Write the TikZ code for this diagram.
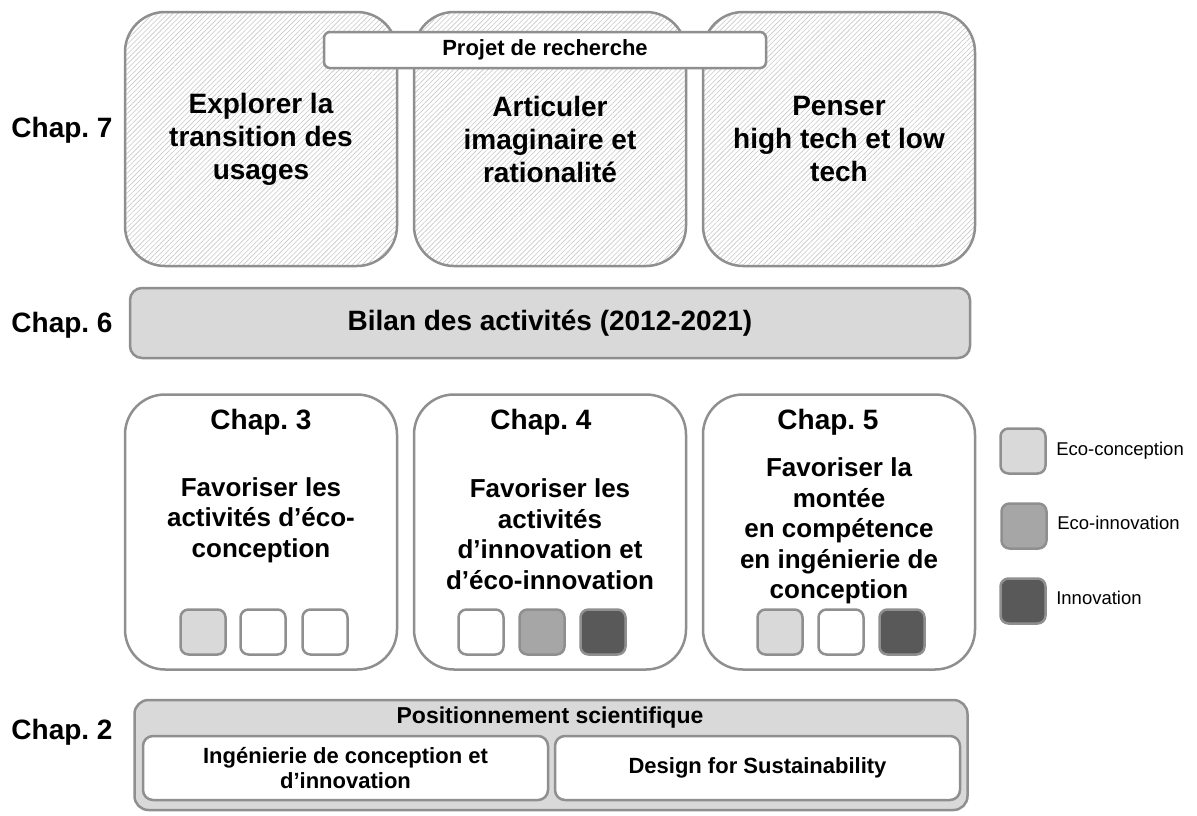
\documentclass[tikz,border=0pt]{standalone}
\usepackage{fontspec}
\setmainfont{Liberation Sans}
\usepackage{tikz}
\usetikzlibrary{positioning,patterns.meta}
\frenchspacing

\definecolor{edgegray}{HTML}{8F8F8F}
\definecolor{ecoconc}{HTML}{D9D9D9}
\definecolor{ecoinno}{HTML}{A6A6A6}
\definecolor{innov}{HTML}{595959}
\definecolor{hatchgray}{HTML}{C8C8C8}

\tikzset{
  bigbox/.style={draw=edgegray, line width=2.5pt, rounded corners=40pt,
    minimum width=272pt, align=center},
  hatchbox/.style={bigbox, minimum height=254pt,
    preaction={fill=white},
    pattern={Lines[angle=45,distance=3.5pt,line width=0.6pt]}, pattern color=hatchgray,
    font=\fontsize{28}{33}\selectfont\bfseries},
  chapbox/.style={bigbox, fill=white, minimum height=275pt},
  chaplabel/.style={font=\fontsize{28}{33}\selectfont\bfseries},
  bodytext/.style={align=center, font=\fontsize{26}{30.5}\selectfont\bfseries},
  smalltext/.style={align=center, font=\fontsize{22}{25}\selectfont\bfseries},
  sq/.style={draw=edgegray, line width=2.5pt, rounded corners=8pt,
    minimum width=45pt, minimum height=45pt, inner sep=0pt},
  sqwhite/.style={sq, fill=white},
  sqlight/.style={sq, fill=ecoconc},
  sqmid/.style={sq, fill=ecoinno},
  sqdark/.style={sq, fill=innov},
  legtext/.style={font=\fontsize{18.5}{22}\selectfont}
}

\begin{document}
\begin{tikzpicture}[x=1pt,y=-1pt]
\useasboundingbox (0,0) rectangle (1197,815);

% Chap. 7
\node[hatchbox] (explorer) at (261,139) {Explorer la\\transition des\\usages};
\node[hatchbox] (articuler) at (550,139) {Articuler\\imaginaire et\\rationalité};
\node[hatchbox] (penser) at (839,139) {Penser\\high tech et low\\tech};
\node[draw=edgegray, line width=2.5pt, fill=white, rounded corners=6pt,
  minimum width=442pt, minimum height=36pt, smalltext] (projet) at (545,50) {Projet de recherche};
\node[chaplabel] (chap7) at (62,130) {Chap. 7};

% Chap. 6
\node[draw=edgegray, line width=2.5pt, fill=ecoconc, rounded corners=12pt,
  minimum width=840pt, minimum height=70pt, chaplabel] (bilan) at (550,323) {Bilan des activités (2012-2021)};
\node[chaplabel] (chap6) at (62,325) {Chap. 6};

% Chap. 3 a 5
\node[chapbox] (box3) at (261,532) {};
\node[chapbox] (box4) at (550,532) {};
\node[chapbox] (box5) at (839,532) {};
\node[chaplabel] (titre3) at (261,422) {Chap. 3};
\node[chaplabel] (titre4) at (541,422) {Chap. 4};
\node[chaplabel] (titre5) at (828,422) {Chap. 5};
\node[bodytext] (texte3) at (261,520) {Favoriser les\\activités d’éco-\\conception};
\node[bodytext] (texte4) at (550,534) {Favoriser les\\activités\\d’innovation et\\d’éco-innovation};
\node[bodytext] (texte5) at (839,531) {Favoriser la\\montée\\en compétence\\en ingénierie de\\conception};

\foreach \x/\s [count=\i] in {203/sqlight,263/sqwhite,325/sqwhite}
  \node[\s] (sqa\i) at (\x,632) {};
\foreach \x/\s [count=\i] in {481/sqwhite,542/sqmid,603/sqdark}
  \node[\s] (sqb\i) at (\x,632) {};
\foreach \x/\s [count=\i] in {780/sqlight,841/sqwhite,902/sqdark}
  \node[\s] (sqc\i) at (\x,632) {};

% legende
\node[sqlight] (legA) at (1023,451) {};
\node[sqmid] (legB) at (1024,526) {};
\node[sqdark] (legC) at (1023,601) {};
\node[legtext, right=6pt of legA] (legAtxt) {Eco-conception};
\node[legtext, right=6pt of legB, yshift=3pt] (legBtxt) {Eco-innovation};
\node[legtext, right=6pt of legC, yshift=3pt] (legCtxt) {Innovation};

% Chap. 2
\node[draw=edgegray, line width=2.5pt, fill=ecoconc, rounded corners=14pt,
  minimum width=833pt, minimum height=110pt] (socle) at (551,755) {};
\node[smalltext, font=\fontsize{23}{26}\selectfont\bfseries] (positionnement) at (550,718) {Positionnement scientifique};
\node[draw=edgegray, line width=2.5pt, fill=white, rounded corners=10pt,
  minimum width=405pt, minimum height=64pt, smalltext] (ingenierie) at (345.5,768) {Ingénierie de conception et\\d’innovation};
\node[draw=edgegray, line width=2.5pt, fill=white, rounded corners=10pt,
  minimum width=405pt, minimum height=64pt, smalltext] (design) at (757.5,768) {Design for Sustainability};
\node[chaplabel] (chap2) at (62,732) {Chap. 2};
\end{tikzpicture}
\end{document}
